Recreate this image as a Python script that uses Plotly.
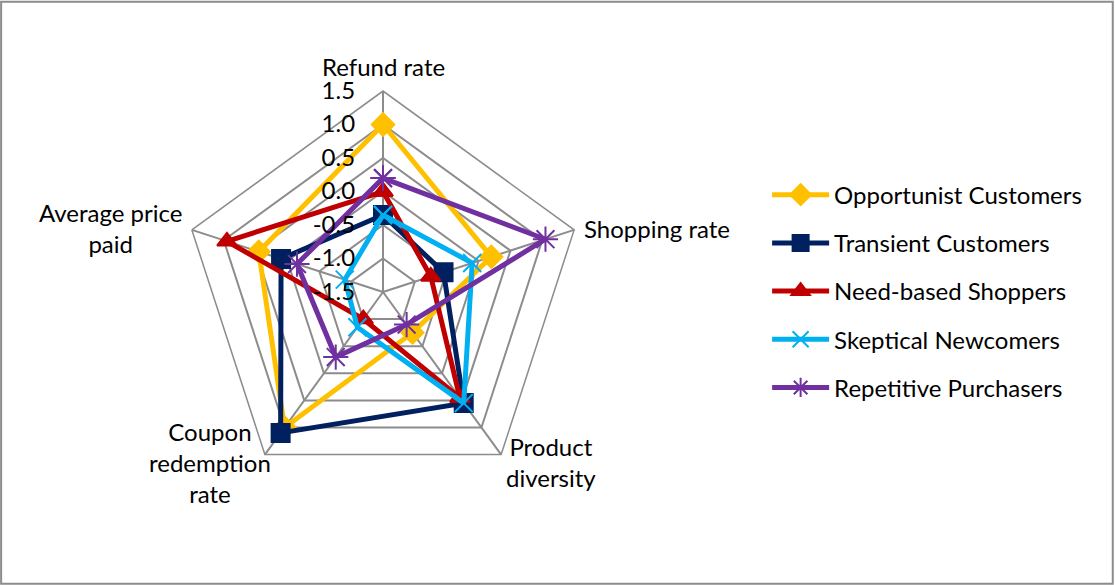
import plotly.graph_objects as go

categories = ["Refund rate", "Shopping rate", "Product diversity",
              "Coupon redemption rate", "Average price paid"]
category_labels = ["Refund rate", "Shopping rate", "Product<br>diversity",
                   "Coupon<br>redemption<br>rate", "Average price<br>paid"]

opportunist = [1.0, 0.2, -0.75, 1.0, 0.45]
transient = [-0.35, -0.55, 0.55, 1.1, 0.1]
need_based = [0.0, -0.75, 0.45, -1.0, 0.95]
skeptical = [-0.35, -0.1, 0.55, -0.85, -0.9]
repetitive = [0.2, 1.05, -0.9, -0.3, -0.15]

radial_ticks = [-1.5, -1.0, -0.5, 0.0, 0.5, 1.0, 1.5]
radial_tick_text = ["-1.5", "-1.0", "-0.5", "0.0", "0.5", "1.0", "1.5"]

series = [
    ("Opportunist Customers", opportunist, "#FFC000", "diamond", 17),
    ("Transient Customers", transient, "#002060", "square", 18),
    ("Need-based Shoppers", need_based, "#C00000", "triangle-up", 17),
    ("Skeptical Newcomers", skeptical, "#00B0F0", "x-thin-open", 18),
    ("Repetitive Purchasers", repetitive, "#7030A0", "asterisk-open", 21),
]

FONT = "Lato"
GRID = "#8C8C8C"

fig = go.Figure()
for i, (name, vals, color, symbol, size) in enumerate(series):
    fig.add_trace(go.Scatterpolar(
        r=vals + vals[:1],
        theta=categories + categories[:1],
        name=name,
        legendgroup=f"g{i}",
        mode="lines+markers",
        cliponaxis=True,
        line=dict(color=color, width=5),
        marker=dict(symbol=symbol, size=size, color=color,
                    line=dict(color=color, width=2)),
    ))

# category labels placed outside the polygon vertices, centred text
label_pos = [(0.3435, 0.887), (0.589, 0.610), (0.494, 0.211),
             (0.188, 0.210), (0.0995, 0.610)]
annotations = [
    dict(text=lab, x=x, y=y, xref="paper", yref="paper", showarrow=False,
         align="center", xanchor="center", yanchor="middle",
         font=dict(size=24, family=FONT, color="black"))
    for lab, (x, y) in zip(category_labels, label_pos)
]

fig.update_layout(
    width=1115, height=585,
    margin=dict(l=0, r=0, t=0, b=0),
    paper_bgcolor="white",
    font=dict(family=FONT, size=24, color="black"),
    polar=dict(
        domain=dict(x=[0.1632, 0.5238], y=[0.1573, 0.8444]),
        bgcolor="white",
        gridshape="linear",
        radialaxis=dict(
            range=[-1.5, 1.5],
            tickvals=radial_ticks,
            ticktext=radial_tick_text,
            angle=90,
            tickangle=90,
            side="counterclockwise",
            showline=False,
            ticks="outside",
            ticklen=19,
            tickcolor="rgba(0,0,0,0)",
            gridcolor=GRID,
            gridwidth=1.5,
            tickfont=dict(size=24, family=FONT, color="black"),
        ),
        angularaxis=dict(
            direction="clockwise",
            rotation=90,
            showline=True,
            linecolor=GRID,
            linewidth=1.5,
            gridcolor=GRID,
            gridwidth=1.5,
            ticks="",
            showticklabels=False,
        ),
    ),
    legend=dict(
        x=0.688, y=0.705, xanchor="left", yanchor="top",
        font=dict(size=24, family=FONT, color="black"),
        itemwidth=57,
        tracegroupgap=14,
        bgcolor="rgba(0,0,0,0)",
    ),
    annotations=annotations,
    shapes=[dict(type="rect", xref="paper", yref="paper",
                 x0=0.001, y0=0.002, x1=0.998, y1=0.997,
                 line=dict(color="#8C8C8C", width=2))],
)

fig.write_html("out.html")
